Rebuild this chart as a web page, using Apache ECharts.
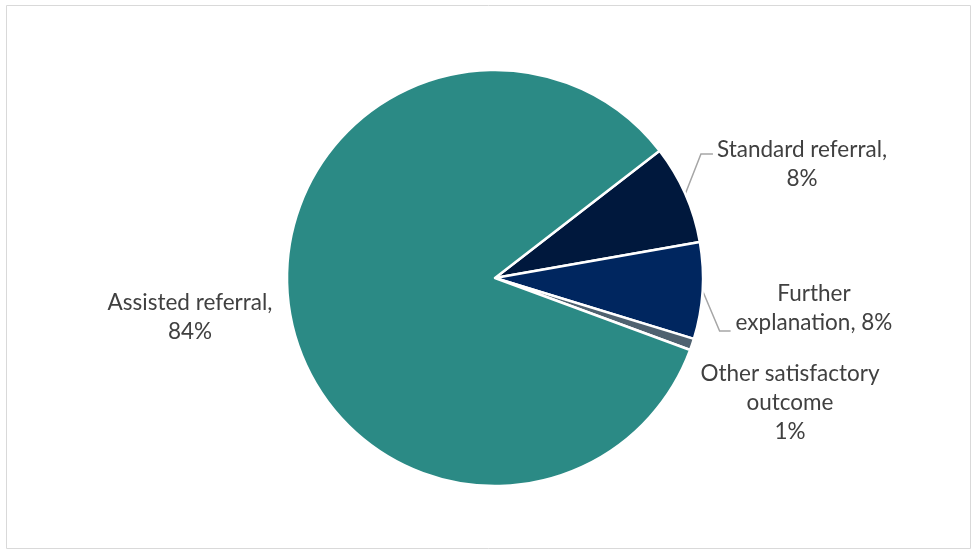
<!DOCTYPE html>
<html>
<head>
<meta charset="utf-8">
<script src="https://cdn.jsdelivr.net/npm/echarts@6/dist/echarts.min.js"></script>
<style>
html,body{margin:0;padding:0;background:#fff;}
#chart{width:973px;height:551px;}
</style>
</head>
<body>
<div id="chart"></div>
<script>
const categories = ['Standard referral', 'Further explanation', 'Other satisfactory outcome', 'Assisted referral'];
const values = [7.7, 7.5, 0.9, 83.9];
const colors = ['#00183D', '#00265F', '#4F6270', '#2B8A85'];

const labelPos = [
  {x: 802, y: 164},
  {x: 814, y: 308},
  {x: 790, y: 403},
  {x: 190, y: 317}
];
// leader line: vertical offset of the horizontal segment from label centre, gap to text
const guide = [
  {dy: -10, gap: 4, len2: 12},
  {dy: 23, gap: 5, len2: 11},
  null,
  null
];

const chart = echarts.init(document.getElementById('chart'));
chart.setOption({
  animation: false,
  graphic: [{
    type: 'rect',
    shape: {x: 6.5, y: 5.5, width: 964, height: 543},
    style: {fill: 'none', stroke: '#d9d9d9', lineWidth: 1}
  }],
  series: [{
    type: 'pie',
    center: [495, 278],
    radius: 208,
    startAngle: 37.7,
    clockwise: true,
    avoidLabelOverlap: false,
    data: categories.map((c, i) => ({
      name: c,
      value: values[i],
      itemStyle: {color: colors[i]},
      labelLine: {show: guide[i] !== null}
    })),
    itemStyle: {borderColor: '#ffffff', borderWidth: 2.5},
    label: {
      show: true,
      position: 'outside',
      fontFamily: 'Lato',
      fontSize: 22.5,
      lineHeight: 29,
      color: '#404040',
      align: 'center',
      formatter: function (p) {
        const pct = Math.round(p.value) + '%';
        switch (p.dataIndex) {
          case 0: return 'Standard referral,\n' + pct;
          case 1: return 'Further\nexplanation, ' + pct;
          case 2: return 'Other satisfactory\noutcome\n' + pct;
          default: return 'Assisted referral,\n' + pct;
        }
      }
    },
    labelLine: {
      show: true,
      length: 20,
      length2: 12,
      lineStyle: {color: '#a6a6a6', width: 1.5}
    },
    labelLayout: function (params) {
      const i = params.dataIndex;
      const p = labelPos[i];
      const out = {x: p.x, y: p.y, align: 'center', verticalAlign: 'middle'};
      const g = guide[i];
      if (g && params.labelLinePoints) {
        const start = params.labelLinePoints[0];
        const left = p.x - params.labelRect.width / 2;
        const yy = p.y + g.dy;
        const endX = left - g.gap;
        out.labelLinePoints = [start, [endX - g.len2, yy], [endX, yy]];
      }
      return out;
    },
    emphasis: {disabled: true}
  }]
});
</script>
</body>
</html>
